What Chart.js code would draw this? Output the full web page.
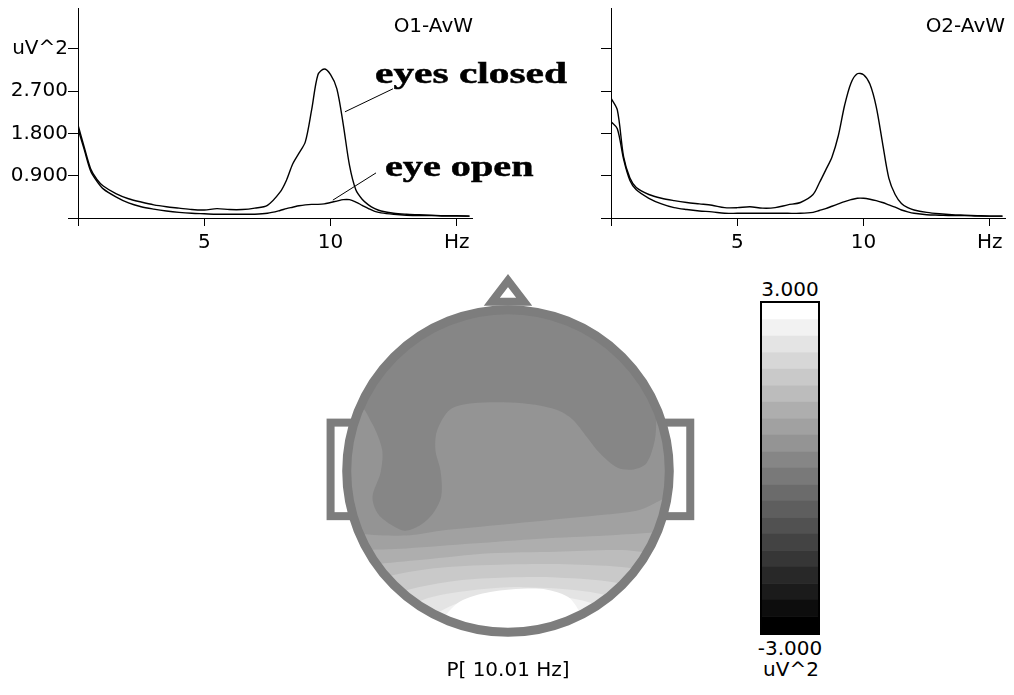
<!DOCTYPE html>
<html>
<head>
<meta charset="utf-8">
<title>EEG spectra and alpha topography</title>
<script src="https://cdn.jsdelivr.net/npm/chart.js@4.4.1/dist/chart.umd.min.js"></script>
<style>
  html, body { margin: 0; padding: 0; background: #fff; }
  #page { position: relative; width: 1014px; height: 695px; overflow: hidden; background: #fff;
          font-family: 'DejaVu Sans', sans-serif; color: #000; }
  canvas { position: absolute; }
  .lbl { position: absolute; font-size: 20px; line-height: 20px; white-space: nowrap; }
  .ctr { transform: translateX(-50%); }
  .note { position: absolute; font-family: 'Liberation Serif', 'Times New Roman', serif; font-weight: bold;
          font-size: 30px; line-height: 30px; white-space: nowrap; transform-origin: 0 0;
          -webkit-text-stroke: 0.5px #000; }
</style>
</head>
<body>
<div id="page">
  <canvas id="specO1" width="480" height="262" style="left:0px;top:0px"></canvas>
  <canvas id="specO2" width="480" height="262" style="left:533px;top:0px"></canvas>
  <canvas id="topo" width="400" height="400" style="left:308px;top:271px"></canvas>
  <canvas id="cbar" width="60" height="334" style="left:760px;top:301px"></canvas>

  <div class="lbl" id="titleO1" style="right:541px;top:15px"></div>
  <div class="lbl" id="titleO2" style="right:9px;top:15px"></div>
  <div class="note" id="noteClosed" style="left:375px;top:58px;transform:scaleX(1.38)"></div>
  <div class="note" id="noteOpen" style="left:385px;top:151px;transform:scaleX(1.34)"></div>

  <div class="lbl ctr" id="cbMax" style="left:790px;top:279px"></div>
  <div class="lbl ctr" id="cbMin" style="left:790px;top:638px"></div>
  <div class="lbl ctr" id="cbUnit" style="left:791px;top:659px"></div>
  <div class="lbl ctr" id="mapLabel" style="left:508px;top:659px"></div>
</div>

<script>
// ---- Spectra (power, uV^2) for the two occipital channels ----
const channels = ['O1-AvW', 'O2-AvW'];
const conditionNotes = ['eyes closed', 'eye open'];
const unitLabel = 'uV^2';

const freqHz = [0, 0.25, 0.5, 0.75, 1, 1.5, 2, 2.5, 3, 3.5, 4, 4.5, 5, 5.5, 6, 6.5, 7, 7.5, 8,
  8.25, 8.5, 8.75, 9, 9.25, 9.5, 9.75, 10, 10.25, 10.5, 10.75, 11, 11.25, 11.5, 11.75, 12,
  12.5, 13, 13.5, 14, 14.5, 15, 15.5];

const o1Closed = [1.98, 1.5, 1.05, 0.82, 0.68, 0.52, 0.41, 0.34, 0.28, 0.24, 0.21, 0.18, 0.17, 0.2, 0.18, 0.18, 0.21, 0.27, 0.55,
  0.8, 1.15, 1.38, 1.62, 2.3, 3.05, 3.17, 3.05, 2.75, 2.0, 1.12, 0.6, 0.4, 0.28, 0.2, 0.15,
  0.1, 0.08, 0.07, 0.06, 0.05, 0.05, 0.04];
const o1Open = [1.9, 1.45, 1.0, 0.78, 0.62, 0.45, 0.32, 0.24, 0.19, 0.15, 0.12, 0.1, 0.09, 0.08, 0.08, 0.08, 0.08, 0.1, 0.16,
  0.2, 0.23, 0.26, 0.28, 0.29, 0.29, 0.3, 0.33, 0.36, 0.39, 0.39, 0.34, 0.27, 0.2, 0.14, 0.11,
  0.08, 0.06, 0.05, 0.05, 0.04, 0.04, 0.04];
const o2Closed = [2.55, 2.3, 1.3, 0.85, 0.65, 0.5, 0.42, 0.37, 0.33, 0.3, 0.27, 0.22, 0.22, 0.24, 0.21, 0.22, 0.28, 0.33, 0.5,
  0.75, 1.02, 1.3, 1.75, 2.4, 2.87, 3.07, 3.05, 2.85, 2.37, 1.6, 0.85, 0.5, 0.31, 0.22, 0.17,
  0.12, 0.09, 0.07, 0.06, 0.05, 0.04, 0.04];
const o2Open = [2.05, 1.9, 1.25, 0.8, 0.6, 0.42, 0.3, 0.22, 0.18, 0.15, 0.13, 0.1, 0.1, 0.1, 0.1, 0.1, 0.1, 0.1, 0.12,
  0.16, 0.2, 0.25, 0.3, 0.35, 0.39, 0.42, 0.42, 0.4, 0.37, 0.33, 0.28, 0.23, 0.17, 0.13, 0.1,
  0.07, 0.06, 0.05, 0.05, 0.04, 0.04, 0.04];

const xTicks = [0, 5, 10, 15];
const xTickLabels = ['', '5', '10', 'Hz'];
const yTicks = [0, 0.9, 1.8, 2.7, 3.6];
const yTickLabels = ['', '0.900', '1.800', '2.700', unitLabel];

// leader lines from the notes to the O1 curves, in (Hz, uV^2)
const closedPointer = [[10.57, 2.26], [12.47, 2.75]];
const openPointer = [[10.09, 0.38], [11.8, 0.96]];

// ---- Topographic map at the alpha peak ----
const mapFrequency = 10.01;
const colorbarTicks = [-3, 3];
const colorbarBands = 20;
// value (uV^2) of each contour band, from the outer band inward
const mapLevels = [0.15, 0.45, 0.75, 1.05, 1.35, 1.65, 1.95, 2.25, 2.55, 2.85];
// band outlines on the head plane (head radius = 100, nose up)
const mapBand0 = [[-124, 124], [124, 124], [124, -124], [-124, -124]];
const mapBand1 = [[-120, 44], [-94, 43], [-84, 29], [-78, 13], [-79, -1], [-84, -16], [-81, -26], [-73, -33], [-64, -37],
  [-55, -34], [-47, -27], [-42, -18], [-41, -10], [-42, 1], [-45, 13], [-44, 25], [-36, 38], [-22, 42], [9, 42], [30, 38],
  [40, 32], [49, 21], [57, 11], [68, 2], [78, 1], [86, 5], [91, 19], [92, 33], [92, 45], [120, 47], [120, -120], [-120, -120]];
const mapBand2 = [[-110, -37], [-92, -39], [-63, -40], [-42, -37], [-22, -35], [-1, -33], [20, -31], [40, -29], [61, -27],
  [82, -24], [97, -17], [113, -12], [113, -120], [-110, -120]];
const mapBand3 = [[-110, -50], [-92, -49], [-63, -48], [-22, -45], [20, -42], [61, -40], [94, -38], [113, -37], [113, -120], [-110, -120]];
const mapBand4 = [[-110, -62], [-84, -58], [-53, -55], [-11, -51], [30, -50], [71, -49], [94, -52], [113, -56], [113, -120], [-110, -120]];
const mapBand5 = [[-104, -76], [-73, -65], [-42, -60], [-1, -58], [40, -58], [82, -61], [107, -70], [107, -120], [-104, -120]];
const mapBand6 = [[-92, -86], [-63, -74], [-32, -68], [-1, -66], [30, -66], [71, -70], [97, -82], [97, -120], [-92, -120]];
const mapBand7 = [[-79, -95], [-53, -80], [-22, -74], [9, -72], [51, -75], [78, -83], [97, -97], [97, -120], [-79, -120]];
const mapBand8 = [[-67, -104], [-44, -88], [-22, -79], [9, -77], [40, -79], [65, -87], [85, -104], [85, -120], [-67, -120]];
const mapBand9 = [[-51, -105], [-40, -91], [-30, -81], [-11, -75], [20, -73], [37, -78], [45, -88], [56, -105], [56, -120], [-51, -120]];
const mapBands = [mapBand0, mapBand1, mapBand2, mapBand3, mapBand4, mapBand5, mapBand6, mapBand7, mapBand8, mapBand9];

// head outline pieces (same head-plane units)
const headRadius = 100;
const leftEar = { u0: -110, u1: -96, vTop: 30, vBottom: -28 };
const rightEar = { u0: 96, u1: 113, vTop: 30, vBottom: -28 };
const nose = [[-10, 105], [0, 118], [10, 105]];
const outlineColor = 'rgb(125,125,125)';

// ---------------------------------------------------------------
const tickFont = { family: 'DejaVu Sans', size: 20 };

function grayFor(value) {
  const [lo, hi] = colorbarTicks;
  let k = Math.floor((value - lo) / (hi - lo) * colorbarBands);
  k = Math.max(0, Math.min(colorbarBands - 1, k));
  const g = Math.round(k * 255 / (colorbarBands - 1));
  return `rgb(${g},${g},${g})`;
}

function toPoints(xs, ys) { return xs.map((x, i) => ({ x, y: ys[i] })); }
function pairsToPoints(pairs) { return pairs.map(([x, y]) => ({ x, y })); }

function spectrumChart(id, closed, open, pointers, showYLabels) {
  const datasets = [closed, open].map(vals => ({
    data: toPoints(freqHz, vals),
    borderColor: '#000', borderWidth: 1.4, pointRadius: 0, tension: 0.3, fill: false
  }));
  pointers.forEach(p => datasets.push({
    data: pairsToPoints(p), borderColor: '#000', borderWidth: 1, pointRadius: 0, tension: 0, fill: false
  }));
  return new Chart(document.getElementById(id), {
    type: 'line',
    data: { datasets },
    options: {
      responsive: false, animation: false, events: [],
      layout: { padding: { top: 8, right: 8, left: 0, bottom: 0 } },
      plugins: { legend: { display: false }, tooltip: { enabled: false } },
      scales: {
        x: {
          type: 'linear', min: 0, max: 15.6,
          afterBuildTicks: s => { s.ticks = xTicks.map(v => ({ value: v })); },
          afterFit: s => { s.height = 44; s.paddingLeft = 0; s.paddingRight = 0; },
          ticks: { callback: (v, i) => xTickLabels[i], color: '#000', font: tickFont, padding: 5,
                   maxRotation: 0, autoSkip: false },
          grid: { drawOnChartArea: false, drawTicks: true, tickLength: 8, color: '#000' },
          border: { display: true, color: '#000', width: 1 }
        },
        y: {
          type: 'linear', min: 0, max: 4.47,
          afterBuildTicks: s => { s.ticks = yTicks.map(v => ({ value: v })); },
          afterFit: s => { s.width = 78; s.paddingTop = 0; s.paddingBottom = 0; },
          ticks: { callback: (v, i) => showYLabels ? yTickLabels[i] : '', color: '#000', font: tickFont,
                   padding: 0, autoSkip: false },
          grid: { drawOnChartArea: false, drawTicks: true, tickLength: 10, color: '#000' },
          border: { display: true, color: '#000', width: 1 }
        }
      }
    }
  });
}

spectrumChart('specO1', o1Closed, o1Open, [closedPointer, openPointer], true);
spectrumChart('specO2', o2Closed, o2Open, [], false);

// head outline: ears and nose beneath, map clipped to the scalp, rim on top
const headOutline = {
  id: 'headOutline',
  beforeDatasetsDraw(chart) {
    const { ctx, scales: { x, y } } = chart;
    const px = u => x.getPixelForValue(u), py = v => y.getPixelForValue(v);
    ctx.save();
    ctx.strokeStyle = outlineColor;
    ctx.lineWidth = 8;
    ctx.lineJoin = 'miter';
    [leftEar, rightEar].forEach(e => {
      ctx.strokeRect(px(e.u0), py(e.vTop), px(e.u1) - px(e.u0), py(e.vBottom) - py(e.vTop));
    });
    ctx.beginPath();
    nose.forEach(([u, v], i) => i ? ctx.lineTo(px(u), py(v)) : ctx.moveTo(px(u), py(v)));
    ctx.closePath();
    ctx.stroke();
    ctx.restore();
    ctx.save();
    ctx.beginPath();
    ctx.arc(px(0), py(0), px(headRadius) - px(0), 0, Math.PI * 2);
    ctx.clip();
  },
  afterDatasetsDraw(chart) {
    const { ctx, scales: { x, y } } = chart;
    ctx.restore();
    ctx.save();
    ctx.strokeStyle = outlineColor;
    ctx.lineWidth = 9;
    ctx.beginPath();
    ctx.arc(x.getPixelForValue(0), y.getPixelForValue(0), x.getPixelForValue(headRadius) - x.getPixelForValue(0), 0, Math.PI * 2);
    ctx.stroke();
    ctx.restore();
  }
};

// outer bands are painted first, inner (stronger) bands on top
new Chart(document.getElementById('topo'), {
  type: 'line',
  data: {
    datasets: mapBands.map((band, i) => ({
      data: pairsToPoints(band),
      fill: 'shape',
      backgroundColor: grayFor(mapLevels[i]),
      borderWidth: 0, pointRadius: 0, tension: 0.3,
      order: mapBands.length - i
    }))
  },
  options: {
    responsive: false, animation: false, events: [],
    layout: { padding: 0 },
    plugins: { legend: { display: false }, tooltip: { enabled: false } },
    scales: {
      x: { type: 'linear', min: -124, max: 124, display: false },
      y: { type: 'linear', min: -124, max: 124, display: false }
    }
  },
  plugins: [headOutline]
});

// colour scale: one floating bar segment per band
const cbLo = colorbarTicks[0], cbHi = colorbarTicks[1];
const cbStep = (cbHi - cbLo) / colorbarBands;
const cbDatasets = [];
for (let j = 0; j < colorbarBands; j++) {
  const lo = cbLo + j * cbStep, hi = lo + cbStep;
  cbDatasets.push({ data: [[lo, hi]], backgroundColor: grayFor((lo + hi) / 2), borderWidth: 0,
                    grouped: false, barPercentage: 1, categoryPercentage: 1 });
}
const cbFrame = {
  id: 'cbFrame',
  afterDatasetsDraw(chart) {
    const { ctx, chartArea: a } = chart;
    ctx.save();
    ctx.strokeStyle = '#000';
    ctx.lineWidth = 2;
    ctx.strokeRect(a.left - 1, a.top - 1, a.right - a.left + 2, a.bottom - a.top + 2);
    ctx.restore();
  }
};
new Chart(document.getElementById('cbar'), {
  type: 'bar',
  data: { labels: [''], datasets: cbDatasets },
  options: {
    responsive: false, animation: false, events: [],
    layout: { padding: 2 },
    plugins: { legend: { display: false }, tooltip: { enabled: false } },
    scales: {
      x: { display: false },
      y: { min: cbLo, max: cbHi, display: false }
    }
  },
  plugins: [cbFrame]
});

// text
document.getElementById('titleO1').textContent = channels[0];
document.getElementById('titleO2').textContent = channels[1];
document.getElementById('noteClosed').textContent = conditionNotes[0];
document.getElementById('noteOpen').textContent = conditionNotes[1];
document.getElementById('cbMax').textContent = cbHi.toFixed(3);
document.getElementById('cbMin').textContent = cbLo.toFixed(3);
document.getElementById('cbUnit').textContent = unitLabel;
document.getElementById('mapLabel').textContent = `P[ ${mapFrequency.toFixed(2)} Hz]`;
</script>
</body>
</html>
